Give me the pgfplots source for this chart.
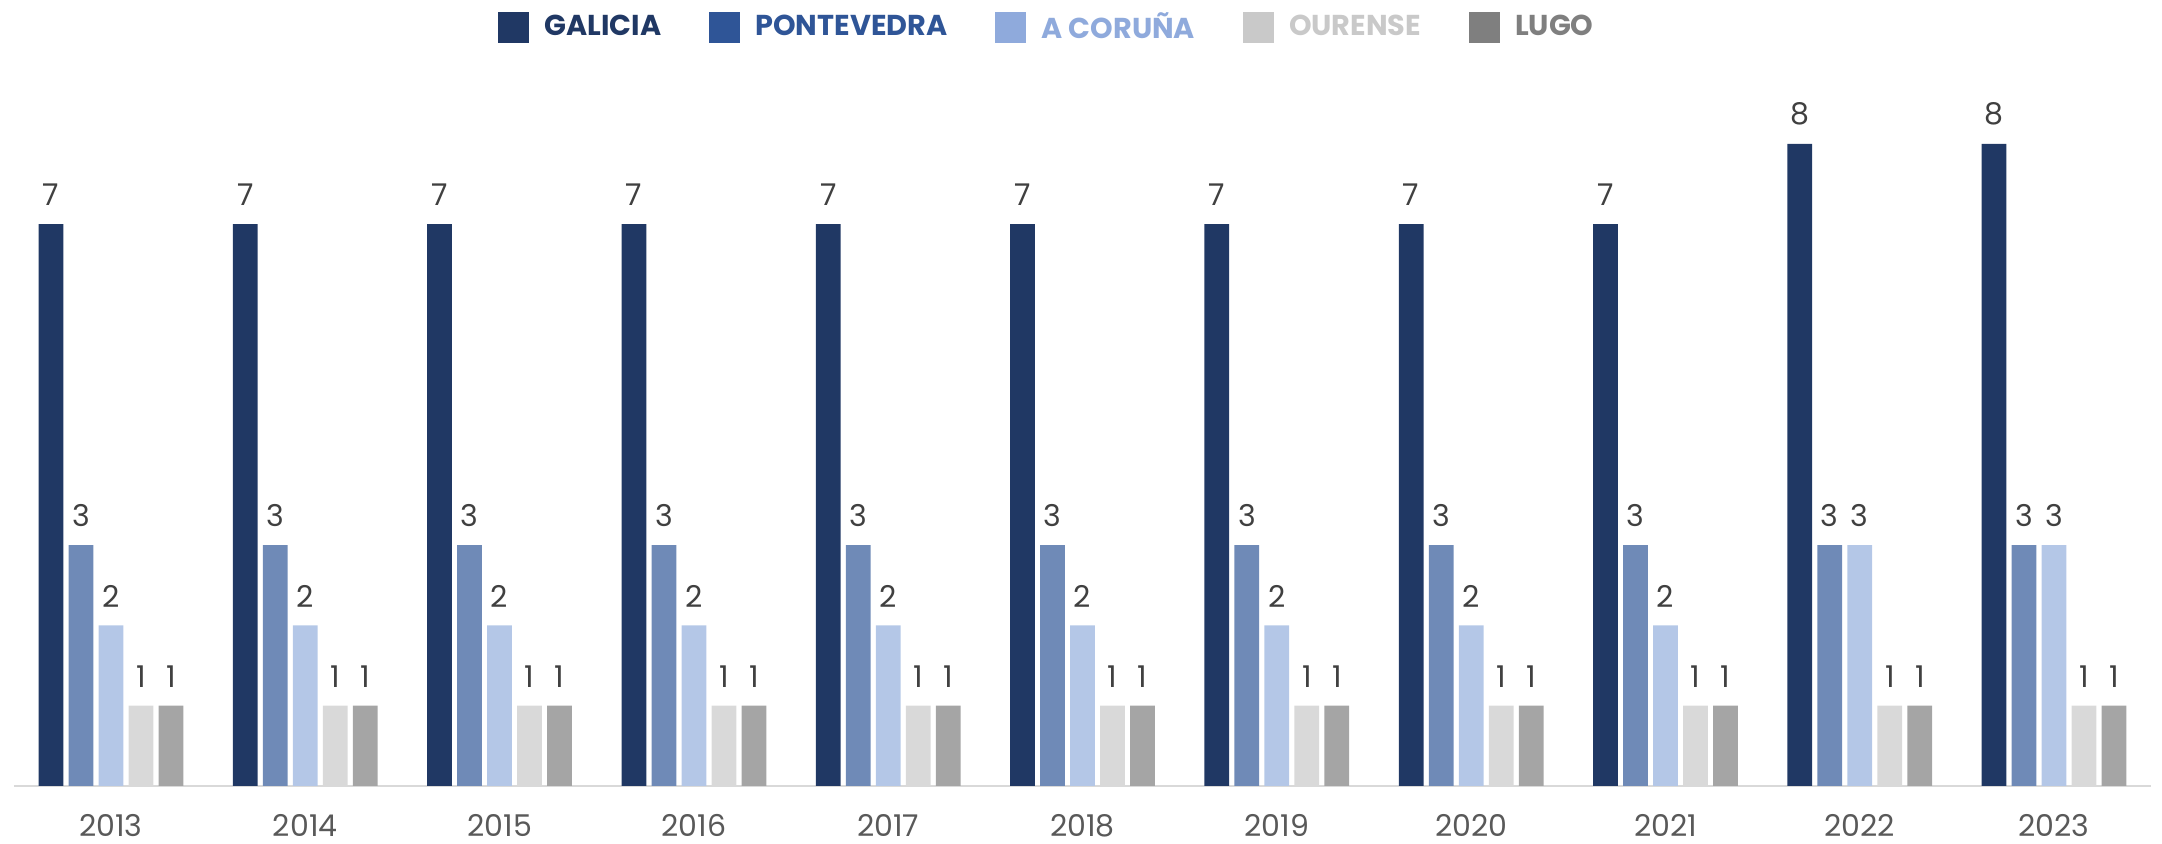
\documentclass[border=0pt]{standalone}
\usepackage{fontspec}
\setmainfont{Poppins}
\usepackage{pgfplots}
\pgfplotsset{compat=1.18}
\definecolor{bGal}{HTML}{203864}
\definecolor{bPon}{HTML}{6F8AB7}
\definecolor{bCor}{HTML}{B4C7E7}
\definecolor{bOur}{HTML}{D9D9D9}
\definecolor{bLug}{HTML}{A5A5A5}
\definecolor{lGal}{HTML}{203864}
\definecolor{lPon}{HTML}{2F5597}
\definecolor{lCor}{HTML}{8FAADC}
\definecolor{lOur}{HTML}{C9C9C9}
\definecolor{lLug}{HTML}{7F7F7F}
\definecolor{numc}{HTML}{404040}
\definecolor{yearc}{HTML}{595959}
\definecolor{axc}{HTML}{D9D9D9}
\begin{document}
\begin{tikzpicture}
\begin{axis}[
  at={(0,0)}, anchor=south west,
  scale only axis, width=855pt, height=289pt,
  xmin=-0.5, xmax=10.5, ymin=0, ymax=9,
  ybar=2.1pt, bar width=9.9pt,
  axis x line*=bottom, axis y line=none,
  axis line style={-, draw=axc, line width=0.9pt},
  xtick={0,...,10}, xticklabels={2013,2014,2015,2016,2017,2018,2019,2020,2021,2022,2023},
  major tick length=0pt, xtick style={draw=none},
  xticklabel style={font=\fontsize{12}{14}\selectfont, text=yearc, yshift=-7.7pt},
  nodes near coords,
  nodes near coords style={font=\fontsize{12}{14}\selectfont, text=numc, anchor=south, yshift=3.8pt},
  /pgf/number format/assume math mode=true,
  legend image code/.code={\fill[#1] (0pt,-6.2pt) rectangle (12.4pt,6.2pt);},
  legend columns=5,
  legend style={at={(0.484,1.0498)}, anchor=center, draw=none, fill=none,
    font=\fontsize{11.5}{14}\selectfont\bfseries,
    /tikz/every odd column/.append style={column sep=4.2pt},
    /tikz/every even column/.append style={column sep=17pt}},
]
\addlegendimage{fill=lGal, draw=none}
\addlegendimage{fill=lPon, draw=none}
\addlegendimage{fill=lCor, draw=none}
\addlegendimage{fill=lOur, draw=none}
\addlegendimage{fill=lLug, draw=none}
\legend{\textcolor{lGal}{GALICIA},\textcolor{lPon}{PONTEVEDRA},\textcolor{lCor}{A CORUÑA},\textcolor{lOur}{OURENSE},\textcolor{lLug}{LUGO}}
\addplot[fill=bGal, draw=none] coordinates {(0,7)(1,7)(2,7)(3,7)(4,7)(5,7)(6,7)(7,7)(8,7)(9,8)(10,8)};
\addplot[fill=bPon, draw=none] coordinates {(0,3)(1,3)(2,3)(3,3)(4,3)(5,3)(6,3)(7,3)(8,3)(9,3)(10,3)};
\addplot[fill=bCor, draw=none] coordinates {(0,2)(1,2)(2,2)(3,2)(4,2)(5,2)(6,2)(7,2)(8,2)(9,3)(10,3)};
\addplot[fill=bOur, draw=none] coordinates {(0,1)(1,1)(2,1)(3,1)(4,1)(5,1)(6,1)(7,1)(8,1)(9,1)(10,1)};
\addplot[fill=bLug, draw=none] coordinates {(0,1)(1,1)(2,1)(3,1)(4,1)(5,1)(6,1)(7,1)(8,1)(9,1)(10,1)};
\end{axis}
\pgfresetboundingbox
\path[use as bounding box] (-5.52pt,-23.2pt) rectangle (859.3pt,314.4pt);
\end{tikzpicture}
\end{document}
